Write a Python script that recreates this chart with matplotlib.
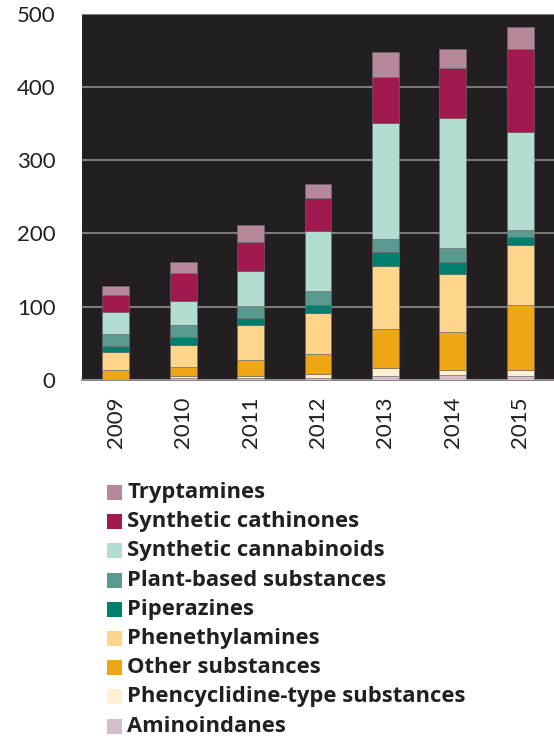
import matplotlib
matplotlib.use("Agg")
import matplotlib.pyplot as plt
from matplotlib.patches import Rectangle
import numpy as np

years = ["2009", "2010", "2011", "2012", "2013", "2014", "2015"]

# stacking order bottom -> top
aminoindanes   = [0, 3, 3, 3, 6, 7, 5]
phencyclidine  = [0, 3, 3, 5, 11, 6, 9]
other          = [14, 12, 21, 28, 52, 53, 89]
phenethyl      = [24, 30, 48, 56, 86, 79, 81]
piperazines    = [9, 10, 10, 10, 19, 16, 11]
plant_based    = [16, 17, 16, 20, 19, 19, 9]
cannabinoids   = [30, 33, 48, 81, 158, 178, 134]
cathinones     = [23, 38, 39, 45, 62, 67, 113]
tryptamines    = [12, 15, 23, 20, 34, 26, 31]

series = [
    ("Aminoindanes", aminoindanes, "#D6BDCB"),
    ("Phencyclidine-type substances", phencyclidine, "#FEF0D0"),
    ("Other substances", other, "#EEA616"),
    ("Phenethylamines", phenethyl, "#FDD68C"),
    ("Piperazines", piperazines, "#007F6E"),
    ("Plant-based substances", plant_based, "#5B9A8F"),
    ("Synthetic cannabinoids", cannabinoids, "#B3DDD3"),
    ("Synthetic cathinones", cathinones, "#A0194F"),
    ("Tryptamines", tryptamines, "#B7879C"),
]

W, H = 554, 738
fig = plt.figure(figsize=(W / 100, H / 100), dpi=100)
ax = fig.add_axes([82 / W, 1 - 380 / H, 1 - 82 / W, (380 - 13.5) / H])
ax.set_facecolor("#231F20")

x = np.arange(len(years))
bottom = np.zeros(len(years))
for name, vals, col in series:
    v = np.array(vals, dtype=float)
    ax.bar(x, v, bottom=bottom, width=0.4, color=col, edgecolor="#6e6e6e",
           linewidth=0.4, zorder=3)
    bottom += v

ax.set_xlim(-0.5, 6.5)
ax.set_ylim(0, 500)
ax.set_yticks([0, 100, 200, 300, 400, 500])
ax.yaxis.grid(True, color="#7a7a7a", linewidth=1.5, zorder=1)
ax.set_axisbelow(True)
for s in ["left", "right", "top"]:
    ax.spines[s].set_visible(False)
ax.spines["bottom"].set_color("#8a8a8a")
ax.spines["bottom"].set_linewidth(1.5)

ax.set_xticks(x)
ax.set_xticklabels(years, rotation=90, fontfamily="Lato", fontsize=16, color="#231F20")
for t in ax.get_yticklabels():
    t.set_fontfamily("Lato")
    t.set_fontsize(16)
    t.set_color("#231F20")
ax.tick_params(axis="both", length=0)
ax.tick_params(axis="y", pad=19)
ax.tick_params(axis="x", pad=12)

# legend (top to bottom)
legend_items = list(reversed(series))
y0 = 492.5
dy = 29.2
for i, (name, vals, col) in enumerate(legend_items):
    yc = y0 + i * dy
    sq = 15
    fig.patches.append(Rectangle((107 / W, 1 - (yc + sq / 2) / H), sq / W, sq / H,
                                 transform=fig.transFigure, facecolor=col,
                                 edgecolor="none"))
    fig.text(127 / W, 1 - yc / H, name, fontfamily="Open Sans", fontweight="bold",
             fontsize=15.8, color="#231F20", va="center", ha="left")

fig.savefig("out.png", dpi=100)
